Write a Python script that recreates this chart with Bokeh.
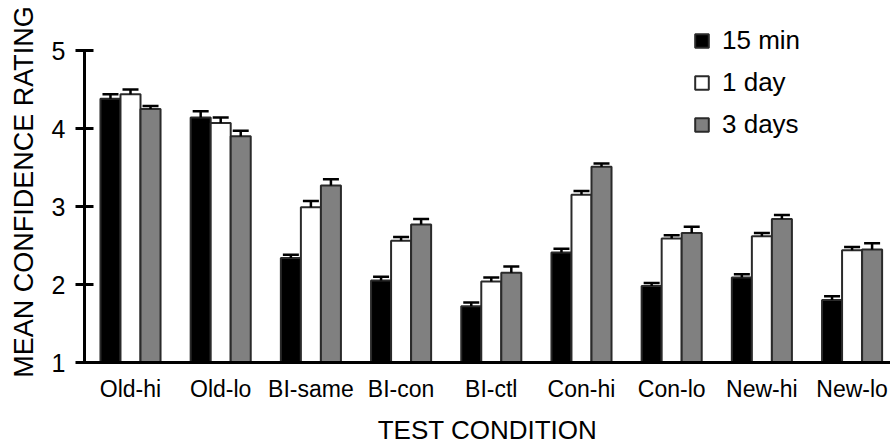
from bokeh.plotting import figure
from bokeh.models import (ColumnDataSource, Range1d, FixedTicker, Whisker, TeeHead,
                          Legend, LegendItem)
from bokeh.embed import file_html
from bokeh.resources import INLINE

# ---- data ----
categories = ["Old-hi", "Old-lo", "BI-same", "BI-con", "BI-ctl",
              "Con-hi", "Con-lo", "New-hi", "New-lo"]
series_names = ["15 min", "1 day", "3 days"]
mean_15min = [4.38, 4.14, 2.34, 2.05, 1.72, 2.41, 1.98, 2.09, 1.80]
mean_1day = [4.44, 4.07, 2.99, 2.56, 2.04, 3.15, 2.59, 2.62, 2.44]
mean_3days = [4.25, 3.90, 3.27, 2.77, 2.15, 3.51, 2.66, 2.84, 2.45]
sem_15min = [0.06, 0.08, 0.04, 0.05, 0.05, 0.05, 0.04, 0.04, 0.05]
sem_1day = [0.06, 0.07, 0.08, 0.05, 0.05, 0.05, 0.04, 0.04, 0.04]
sem_3days = [0.04, 0.07, 0.08, 0.07, 0.08, 0.04, 0.08, 0.05, 0.08]
y_ticks = [1, 2, 3, 4, 5]

FONT = "Liberation Sans"
fills = ["black", "white", "#808080"]
bar_w = 0.222
offsets = [-bar_w, 0.0, bar_w]

p = figure(frame_width=806, frame_height=341,
           x_range=Range1d(-0.51, 8.426), y_range=Range1d(1, 5.372),
           output_backend="svg", toolbar_location=None,
           min_border_left=84, min_border_right=0, min_border_top=21,
           min_border_bottom=81)
p.outline_line_color = None
p.xgrid.visible = False
p.ygrid.visible = False
p.background_fill_color = "white"
p.border_fill_color = "white"

means = [mean_15min, mean_1day, mean_3days]
sems = [sem_15min, sem_1day, sem_3days]
items = []
for k in range(3):
    xs = [i + offsets[k] for i in range(len(categories))]
    src = ColumnDataSource(dict(x=xs, top=means[k],
                                upper=[m + e for m, e in zip(means[k], sems[k])]))
    r = p.vbar(x="x", top="top", bottom=1, width=bar_w, source=src,
               fill_color=fills[k], line_color="#2a2a2a", line_width=2)
    items.append(LegendItem(label=series_names[k], renderers=[r]))
    w = Whisker(base="x", upper="upper", lower="top", source=src,
                lower_head=None,
                upper_head=TeeHead(size=16, line_width=2.5, line_color="black"),
                line_width=2.5, line_color="black", level="overlay")
    p.add_layout(w)

# axes
xa = p.xaxis[0]
xa.ticker = FixedTicker(ticks=list(range(len(categories))))
xa.major_label_overrides = {i: c for i, c in enumerate(categories)}
xa.major_tick_line_color = None
xa.minor_tick_line_color = None
xa.major_tick_out = 0
xa.major_tick_in = 0
xa.axis_line_width = 3
xa.axis_line_color = "black"
xa.major_label_text_font = FONT
xa.major_label_text_font_size = "23px"
xa.major_label_text_color = "black"
xa.major_label_standoff = 13
xa.axis_label = "TEST CONDITION"
xa.axis_label_text_font = FONT
xa.axis_label_text_font_size = "26px"
xa.axis_label_text_font_style = "normal"
xa.axis_label_text_color = "black"
xa.axis_label_standoff = 10

ya = p.yaxis[0]
ya.ticker = FixedTicker(ticks=y_ticks)
ya.bounds = (1, 5)
ya.minor_tick_line_color = None
ya.major_tick_out = 9
ya.major_tick_in = 9
ya.major_tick_line_width = 3
ya.major_tick_line_color = "black"
ya.axis_line_width = 3
ya.axis_line_color = "black"
ya.major_label_text_font = FONT
ya.major_label_text_font_size = "25px"
ya.major_label_text_color = "black"
ya.major_label_standoff = 10
ya.axis_label = "MEAN CONFIDENCE RATING"
ya.axis_label_text_font = FONT
ya.axis_label_text_font_size = "27px"
ya.axis_label_text_font_style = "normal"
ya.axis_label_text_color = "black"
ya.axis_label_standoff = 10

legend = Legend(items=items, location=(609, 222), orientation="vertical",
                label_text_font=FONT, label_text_font_size="26px",
                label_text_color="black", glyph_width=17, glyph_height=17,
                label_height=30, spacing=11, label_standoff=12,
                padding=0, margin=0, border_line_color=None,
                background_fill_alpha=0)
p.add_layout(legend, "center")

open("out.html", "w").write(file_html(p, INLINE))
